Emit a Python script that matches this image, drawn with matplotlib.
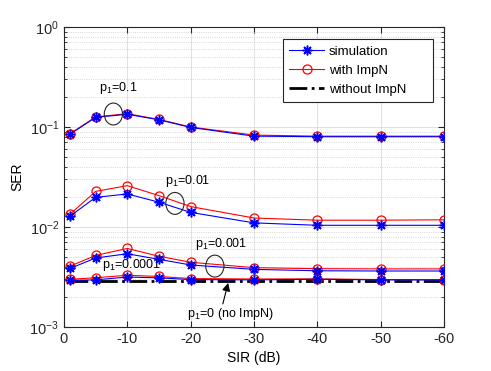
import matplotlib
matplotlib.use('Agg')
import matplotlib.pyplot as plt
from matplotlib.patches import Ellipse
import numpy as np

plt.rcParams['font.family'] = ['Liberation Sans', 'DejaVu Sans']
plt.rcParams['mathtext.fontset'] = 'custom'
plt.rcParams['mathtext.rm'] = 'Liberation Sans'
plt.rcParams['mathtext.it'] = 'Liberation Sans:italic'

sir = [-1, -5, -10, -15, -20, -30, -40, -50, -60]

# p1 = 0.1
sim_01 = [0.085, 0.125, 0.134, 0.118, 0.099, 0.081, 0.080, 0.080, 0.080]
imp_01 = [0.086, 0.126, 0.136, 0.119, 0.100, 0.083, 0.081, 0.081, 0.081]
# p1 = 0.01
sim_001 = [0.0129, 0.0198, 0.0214, 0.0177, 0.0140, 0.0110, 0.0104, 0.0104, 0.0104]
imp_001 = [0.0135, 0.0227, 0.0259, 0.0206, 0.0160, 0.0123, 0.0117, 0.0117, 0.0118]
# p1 = 0.001
sim_0001 = [0.00386, 0.0049, 0.0054, 0.00475, 0.00417, 0.00377, 0.00365, 0.00363, 0.00363]
imp_0001 = [0.00407, 0.0052, 0.0061, 0.0051, 0.00444, 0.00392, 0.00383, 0.00381, 0.00381]
# p1 = 0.0001
sim_00001 = [0.00293, 0.00296, 0.00316, 0.00310, 0.00298, 0.00296, 0.00300, 0.00296, 0.00295]
imp_00001 = [0.00300, 0.00311, 0.00329, 0.00320, 0.00305, 0.00302, 0.00303, 0.00298, 0.00298]
# p1 = 0
no_imp = [0.00288] * len(sir)

sims = [sim_01, sim_001, sim_0001, sim_00001]
imps = [imp_01, imp_001, imp_0001, imp_00001]

fig = plt.figure(figsize=(4.91, 3.71), dpi=100)
ax = fig.add_axes([0.1303, 0.1186, 0.774, 0.8086])

for i in range(len(sims)):
    ax.plot(sir, imps[i], color='red', lw=0.8, marker='o', ms=6.5,
            mfc='none', mew=0.9, label='with ImpN' if i == 0 else None, zorder=3)
    ax.plot(sir, sims[i], color='blue', lw=0.8, marker=(8, 2, 0), ms=7,
            mew=1.1, label='simulation' if i == 0 else None, zorder=4)
ax.plot(sir, no_imp, color='black', lw=2, ls='-.', label='without ImpN', zorder=2)

ax.set_yscale('log')
ax.set_ylim(1e-3, 1)
ax.set_xlim(0, -60)
ax.set_xticks(np.arange(0, -61, -10))
ax.set_xticklabels([str(t) for t in range(0, -61, -10)])
ax.set_xlabel('SIR (dB)', fontsize=10)
ax.set_ylabel('SER', fontsize=10)

ax.grid(True, which='major', color='#dcdcdc', lw=0.6, ls='-')
ax.grid(True, which='minor', axis='y', color='#c8c8c8', lw=0.6, ls=':')
ax.tick_params(which='both', direction='in', top=True, right=True,
               labelsize=10.5, colors='#262626', length=4)
ax.tick_params(which='minor', length=2)
for s in ax.spines.values():
    s.set_color('#262626')
    s.set_linewidth(0.8)

handles, labels = ax.get_legend_handles_labels()
order = [labels.index('simulation'), labels.index('with ImpN'), labels.index('without ImpN')]
leg = ax.legend([handles[k] for k in order], [labels[k] for k in order],
                loc='upper left', bbox_to_anchor=(0.576, 0.75, 0.395, 0.21),
                mode='expand', borderaxespad=0, fontsize=9.5,
                fancybox=False, edgecolor='#262626', framealpha=1,
                handlelength=2.65, handletextpad=0.35, borderpad=0.5,
                labelspacing=0.5)
leg.get_frame().set_linewidth(0.8)

# annotation ellipses (axes fraction)
for cx, cy in [(0.130, 0.71), (0.292, 0.412), (0.397, 0.203)]:
    ax.add_patch(Ellipse((cx, cy), 0.048, 0.073, transform=ax.transAxes,
                         fill=False, ec='#262626', lw=0.8, zorder=5))

ax.text(0.092, 0.788, r'p$_1$=0.1', transform=ax.transAxes, fontsize=9)
ax.text(0.266, 0.478, r'p$_1$=0.01', transform=ax.transAxes, fontsize=9)
ax.text(0.346, 0.268, r'p$_1$=0.001', transform=ax.transAxes, fontsize=9)
ax.text(0.099, 0.197, r'p$_1$=0.0001', transform=ax.transAxes, fontsize=9)
ax.text(0.325, 0.033, r'p$_1$=0 (no ImpN)', transform=ax.transAxes, fontsize=9)
ax.annotate('', xy=(0.432, 0.147), xytext=(0.418, 0.077),
            xycoords='axes fraction', textcoords='axes fraction',
            arrowprops=dict(arrowstyle='-|>', color='black', lw=0.8,
                            mutation_scale=12, shrinkA=0, shrinkB=0))

fig.savefig('out.png', dpi=100)
